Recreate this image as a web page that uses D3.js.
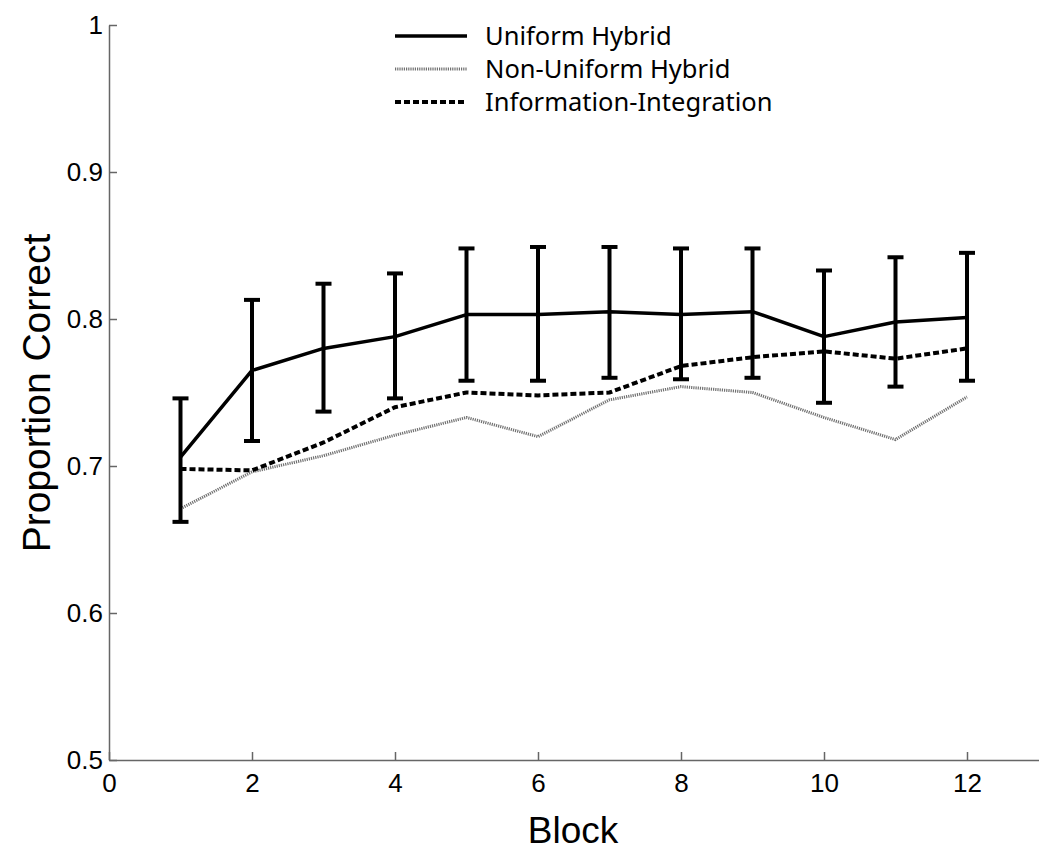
<!DOCTYPE html>
<html>
<head>
<meta charset="utf-8">
<script src="https://d3js.org/d3.v7.min.js"></script>
<style>
  body { margin: 0; background: #fff; }
  .axis text { font-family: "Liberation Sans", Arial, sans-serif; font-size: 26px; fill: #000; }
  .axis path, .axis line { stroke: #666; stroke-width: 1.5; }
</style>
</head>
<body>
<div id="chart"></div>
<script>
// blocks and proportion correct per condition
var blocks = [1, 2, 3, 4, 5, 6, 7, 8, 9, 10, 11, 12];
var uniform = [0.706, 0.765, 0.780, 0.788, 0.803, 0.803, 0.805, 0.803, 0.805, 0.788, 0.798, 0.801];
var uniformUpper = [0.746, 0.813, 0.824, 0.831, 0.848, 0.849, 0.849, 0.848, 0.848, 0.833, 0.842, 0.845];
var uniformLower = [0.662, 0.717, 0.737, 0.746, 0.758, 0.758, 0.760, 0.759, 0.760, 0.743, 0.754, 0.758];
var nonUniform = [0.671, 0.696, 0.707, 0.721, 0.733, 0.720, 0.745, 0.754, 0.750, 0.733, 0.718, 0.747];
var infoInt = [0.698, 0.697, 0.716, 0.740, 0.750, 0.748, 0.750, 0.768, 0.774, 0.778, 0.773, 0.780];
var xTicks = [0, 2, 4, 6, 8, 10, 12];
var yTicks = [0.5, 0.6, 0.7, 0.8, 0.9, 1];
var legendLabels = ['Uniform Hybrid', 'Non-Uniform Hybrid', 'Information-Integration'];

var _width = 1050, _height = 856;
var svg = d3.select('#chart').append('svg')
  .attr('width', _width)
  .attr('height', _height);

var x = d3.scaleLinear().domain([0, 13]).range([109, 1038.5]);
var y = d3.scaleLinear().domain([0.5, 1]).range([760, 25]);

// axes (ticks point inward, like matlab)
svg.append('g')
  .attr('class', 'axis')
  .attr('transform', 'translate(0,' + y(0.5) + ')')
  .call(d3.axisBottom(x).tickValues(xTicks).tickSizeInner(-8).tickSizeOuter(0).tickPadding(14));

svg.append('g')
  .attr('class', 'axis')
  .attr('transform', 'translate(' + x(0) + ',0)')
  .call(d3.axisLeft(y).tickValues(yTicks).tickSizeInner(-8).tickSizeOuter(0).tickPadding(6)
    .tickFormat(function(d) { return d === 1 ? '1' : d3.format('.1f')(d); }));

// axis titles
svg.append('text')
  .attr('x', 573).attr('y', 843)
  .attr('text-anchor', 'middle')
  .style('font-family', '"Liberation Sans", Arial, sans-serif')
  .style('font-size', '37px')
  .text('Block');

svg.append('text')
  .attr('transform', 'translate(50,393) rotate(-90)')
  .attr('text-anchor', 'middle')
  .style('font-family', '"Liberation Sans", Arial, sans-serif')
  .style('font-size', '39px')
  .text('Proportion Correct');

var line = function(vals) {
  return d3.line()
    .x(function(d, i) { return x(blocks[i]); })
    .y(function(d) { return y(d); })(vals);
};

var styles = [
  {stroke: '#000', width: 3.5, dash: null},
  {stroke: '#707070', width: 3, dash: '1.2,1'},
  {stroke: '#000', width: 4, dash: '6,3'}
];

// non-uniform (gray dotted)
svg.append('path')
  .attr('d', line(nonUniform))
  .style('fill', 'none')
  .style('stroke', styles[1].stroke)
  .style('stroke-width', styles[1].width)
  .style('stroke-dasharray', styles[1].dash);

// information-integration (dashed)
svg.append('path')
  .attr('d', line(infoInt))
  .style('fill', 'none')
  .style('stroke', styles[2].stroke)
  .style('stroke-width', styles[2].width)
  .style('stroke-dasharray', styles[2].dash);

// uniform hybrid (solid)
svg.append('path')
  .attr('d', line(uniform))
  .style('fill', 'none')
  .style('stroke', styles[0].stroke)
  .style('stroke-width', styles[0].width)
  .style('stroke-linejoin', 'round');

// error bars on uniform hybrid
var eb = svg.selectAll('.errbar')
  .data(blocks)
  .enter()
  .append('g')
  .classed('errbar', true)
  .style('stroke', '#000')
  .style('stroke-width', 4);

eb.append('line')
  .attr('x1', function(d) { return x(d); })
  .attr('x2', function(d) { return x(d); })
  .attr('y1', function(d, i) { return y(uniformLower[i]); })
  .attr('y2', function(d, i) { return y(uniformUpper[i]); });
eb.append('line')
  .attr('x1', function(d) { return x(d) - 8; })
  .attr('x2', function(d) { return x(d) + 8; })
  .attr('y1', function(d, i) { return y(uniformUpper[i]); })
  .attr('y2', function(d, i) { return y(uniformUpper[i]); });
eb.append('line')
  .attr('x1', function(d) { return x(d) - 8; })
  .attr('x2', function(d) { return x(d) + 8; })
  .attr('y1', function(d, i) { return y(uniformLower[i]); })
  .attr('y2', function(d, i) { return y(uniformLower[i]); });

// legend
var legend = svg.selectAll('.legend')
  .data(legendLabels)
  .enter()
  .append('g')
  .classed('legend', true)
  .attr('transform', function(d, i) { return 'translate(395,' + (36 + i * 33) + ')'; });

legend.append('line')
  .attr('x1', 0).attr('x2', 72).attr('y1', 0).attr('y2', 0)
  .style('stroke', function(d, i) { return styles[i].stroke; })
  .style('stroke-width', function(d, i) { return styles[i].width; })
  .style('stroke-dasharray', function(d, i) { return styles[i].dash; });

legend.append('text')
  .attr('x', 90).attr('y', 0).attr('dy', '0.35em')
  .style('font-family', '"Noto Sans", "Open Sans", sans-serif')
  .style('font-size', '25.5px')
  .text(function(d) { return d; });
</script>
</body>
</html>
